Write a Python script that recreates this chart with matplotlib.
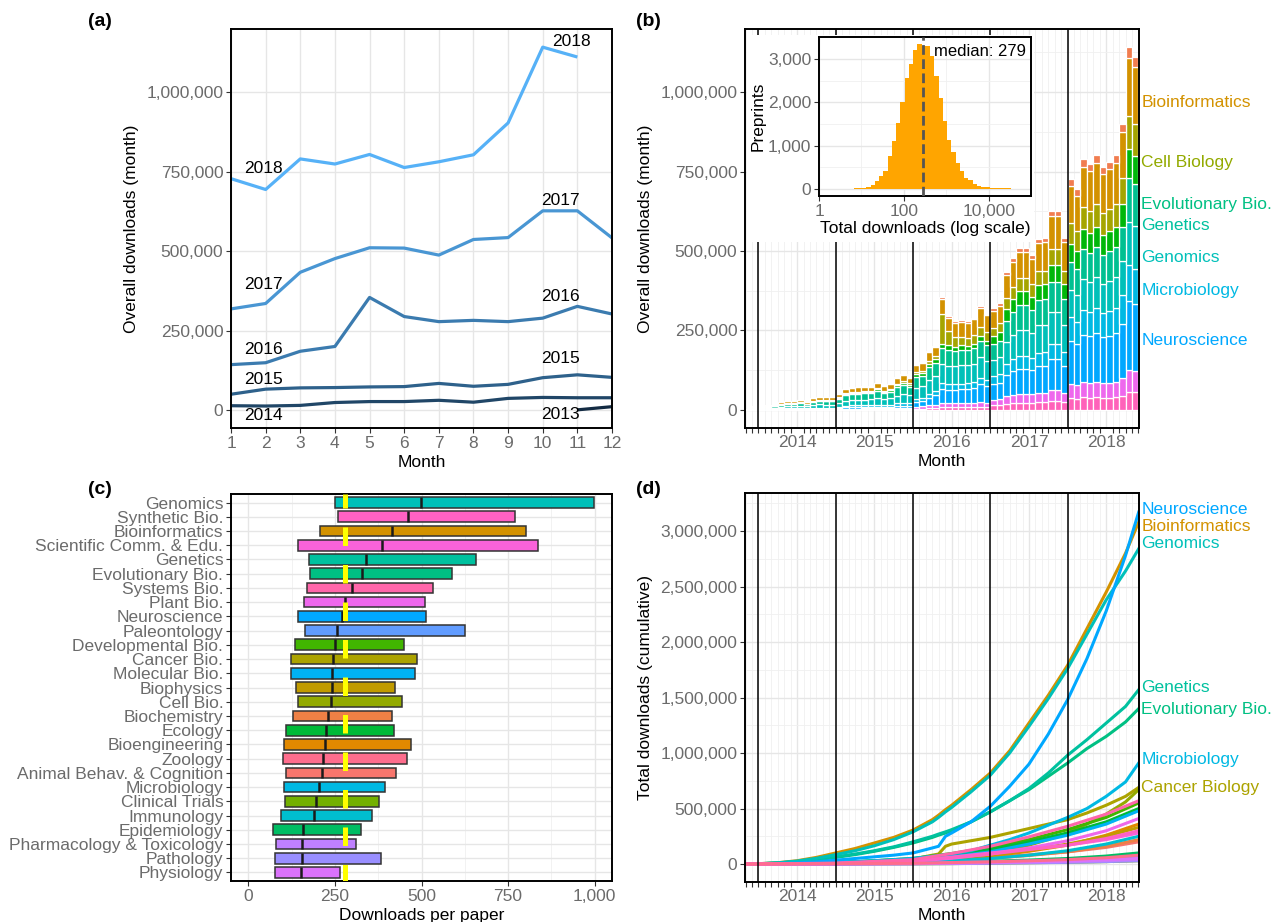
import math
import numpy as np
import pandas as pd
import matplotlib
matplotlib.use("Agg")
import matplotlib.pyplot as plt
from matplotlib.patches import Rectangle
from matplotlib.ticker import FuncFormatter, MultipleLocator, FixedLocator, NullFormatter

plt.rcParams['font.family'] = ['Liberation Sans', 'DejaVu Sans']

# ---------------- DATA ----------------
# (a) overall downloads per month, by year
months_2013 = [11, 12]
dl_2013 = [2000, 12000]
months_full = list(range(1, 13))
dl_2014 = [15000, 14000, 16000, 25000, 28000, 28000, 32000, 26000, 38000, 41000, 40000, 40000]
dl_2015 = [51000, 67000, 71000, 72000, 74000, 75000, 85000, 76000, 82000, 103000, 112000, 104000]
dl_2016 = [144000, 150000, 186000, 201000, 355000, 295000, 279000, 283000, 279000, 290000, 327000, 303000]
dl_2017 = [319000, 336000, 434000, 477000, 511000, 510000, 488000, 537000, 543000, 627000, 627000, 542000]
months_2018 = list(range(1, 12))
dl_2018 = [728000, 694000, 790000, 774000, 804000, 763000, 781000, 803000, 903000, 1141000, 1110000]

# (b) monthly downloads by field group (thousands), Nov 2013 .. Nov 2018
bar_months = pd.date_range("2013-11-01", "2018-11-01", freq="MS")
b_pink_a = [0.0, 0.2, 0.3, 0.3, 0.3, 0.5, 0.6, 0.6, 0.6, 0.5, 0.8, 0.8, 0.8, 0.8,
            1.0, 1.3, 1.4, 1.4, 1.5, 1.5, 1.7, 1.5, 1.6, 2.1, 2.2, 2.1,
            4, 4, 5, 6, 8, 8, 8, 8, 8, 9, 10, 10,
            14, 15, 20, 21, 23, 23, 22, 24, 24, 28, 28, 24,
            36, 35, 40, 39, 40, 38, 39, 40, 45, 57, 56]
b_pink_b = [0.1, 0.5, 0.6, 0.6, 0.6, 1.0, 1.1, 1.1, 1.3, 1.0, 1.5, 1.6, 1.6, 1.6,
            2.0, 2.7, 2.8, 2.9, 3.0, 3.0, 3.4, 3.0, 3.3, 4.1, 4.5, 4.2,
            6, 7, 9, 10, 14, 13, 13, 13, 13, 13, 14, 13,
            18, 18, 24, 26, 28, 28, 27, 30, 30, 34, 34, 30,
            44, 42, 47, 46, 48, 46, 47, 48, 54, 68, 67]
b_neuro = [0.1, 0.5, 0.6, 0.6, 0.6, 1.0, 1.1, 1.1, 1.3, 1.0, 1.5, 1.6, 1.6, 1.6,
           3.1, 4.0, 4.3, 4.3, 4.4, 4.5, 5.1, 4.6, 4.9, 6.2, 6.7, 6.2,
           14, 16, 24, 30, 44, 42, 42, 44, 45, 48, 56, 52,
           49, 52, 67, 74, 79, 79, 76, 83, 84, 97, 97, 84,
           138, 132, 150, 147, 153, 145, 148, 153, 172, 217, 211]
b_lblue = [0.2, 1.0, 1.2, 1.1, 1.3, 2.0, 2.2, 2.2, 2.6, 2.1, 3.0, 3.3, 3.2, 3.2,
           4.1, 5.4, 5.7, 5.8, 5.9, 6.0, 6.8, 6.1, 6.6, 8.2, 9.0, 8.3,
           10, 10, 13, 14, 18, 17, 17, 18, 18, 19, 22, 20,
           26, 27, 35, 38, 41, 41, 39, 43, 43, 50, 50, 43,
           73, 69, 79, 77, 80, 76, 78, 80, 90, 114, 111]
b_genomics = [0.5, 2.9, 3.6, 3.4, 3.8, 6.0, 6.7, 6.7, 7.7, 6.2, 9.1, 9.8, 9.6, 9.6,
              12.2, 16.1, 17.0, 17.3, 17.8, 18.0, 20.4, 18.2, 19.7, 24.7, 26.9, 25.0,
              36, 37, 44, 46, 60, 58, 57, 57, 56, 57, 63, 59,
              51, 54, 69, 76, 82, 82, 78, 86, 87, 100, 100, 87,
              87, 83, 95, 93, 96, 92, 94, 96, 108, 137, 133]
b_genevo = [0.5, 3.1, 3.9, 3.6, 4.2, 6.5, 7.3, 7.3, 8.3, 6.8, 9.9, 10.7, 10.4, 10.4,
            13.3, 17.4, 18.5, 18.7, 19.2, 19.5, 22.1, 19.8, 21.3, 26.8, 29.1, 27.0,
            33, 34, 40, 42, 50, 50, 48, 48, 47, 48, 53, 49,
            48, 50, 65, 72, 77, 77, 73, 81, 81, 94, 94, 81,
            87, 83, 95, 93, 96, 92, 94, 96, 108, 137, 133]
b_greens = [0.1, 0.7, 0.9, 0.8, 1.0, 1.5, 1.7, 1.7, 1.9, 1.6, 2.3, 2.5, 2.4, 2.4,
            3.1, 4.0, 4.3, 4.3, 4.4, 4.5, 5.1, 4.6, 4.9, 6.2, 6.7, 6.2,
            9, 9, 11, 12, 14, 15, 14, 15, 14, 15, 16, 15,
            27, 29, 37, 41, 43, 43, 41, 46, 46, 53, 53, 46,
            58, 56, 63, 62, 64, 61, 62, 64, 72, 91, 89]
b_olive = [0.1, 0.4, 0.5, 0.4, 0.5, 0.8, 0.8, 0.8, 1.0, 0.8, 1.1, 1.2, 1.2, 1.2,
           2.0, 2.7, 2.8, 2.9, 3.0, 3.0, 3.4, 3.0, 3.3, 4.1, 4.5, 4.2,
           7, 7, 9, 10, 94, 45, 30, 28, 26, 26, 28, 26,
           26, 27, 35, 38, 41, 41, 39, 43, 43, 50, 50, 43,
           66, 62, 71, 70, 72, 69, 70, 72, 81, 103, 100]
b_bioinf = [0.4, 2.5, 3.2, 2.9, 3.4, 5.3, 5.9, 5.9, 6.7, 5.5, 8.0, 8.6, 8.4, 8.4,
            9.2, 12.1, 12.8, 13.0, 13.3, 13.5, 15.3, 13.7, 14.8, 18.5, 20.2, 18.7,
            22, 23, 28, 28, 48, 42, 45, 47, 47, 50, 59, 54,
            53, 55, 72, 79, 84, 84, 81, 89, 90, 103, 103, 89,
            116, 111, 126, 124, 129, 122, 125, 128, 144, 183, 178]
b_top = [0.0, 0.2, 0.3, 0.3, 0.3, 0.5, 0.6, 0.6, 0.6, 0.5, 0.8, 0.8, 0.8, 0.8,
         1.0, 1.3, 1.4, 1.4, 1.5, 1.5, 1.7, 1.5, 1.6, 2.1, 2.2, 2.1,
         3, 3, 3, 3, 5, 5, 5, 5, 5, 5, 6, 5,
         8, 8, 11, 12, 13, 13, 12, 13, 14, 16, 16, 14,
         22, 21, 24, 23, 24, 23, 23, 24, 27, 34, 33]

# inset histogram (log10 bins of total downloads per preprint)
hist_counts = [0, 3, 4, 4, 5, 8, 12, 20, 38, 85, 170, 285, 400, 760, 1100, 1510, 2000,
               2560, 2880, 3200, 3350, 3300, 3300, 3070, 2600, 2100, 1565, 1130, 840,
               590, 400, 250, 200, 107, 70, 46, 38, 23, 23, 20, 10, 8, 6, 5, 4, 3]
hist_first_edge = 0.315
hist_bin_width = 0.1
median_downloads = 279

# (c) downloads per paper: quartiles by field
c_labels = ["Genomics", "Synthetic Bio.", "Bioinformatics", "Scientific Comm. & Edu.",
            "Genetics", "Evolutionary Bio.", "Systems Bio.", "Plant Bio.", "Neuroscience",
            "Paleontology", "Developmental Bio.", "Cancer Bio.", "Molecular Bio.",
            "Biophysics", "Cell Bio.", "Biochemistry", "Ecology", "Bioengineering",
            "Zoology", "Animal Behav. & Cognition", "Microbiology", "Clinical Trials",
            "Immunology", "Epidemiology", "Pharmacology & Toxicology", "Pathology",
            "Physiology"]
c_alpha_rank = [14, 25, 4, 24, 13, 12, 26, 23, 18, 19, 9, 6, 17, 5, 7, 2, 10, 3,
                27, 1, 16, 8, 15, 11, 21, 20, 22]
c_q1 = [249, 259, 207, 144, 176, 178, 169, 160, 142, 163, 135, 123, 123, 139, 142,
        129, 108, 103, 99, 109, 103, 105, 95, 71, 79, 76, 78]
c_median = [498, 460, 416, 387, 340, 327, 299, 280, 271, 255, 249, 245, 243, 243, 240,
            229, 223, 222, 217, 212, 203, 195, 190, 157, 155, 154, 151]
c_q3 = [998, 771, 801, 836, 657, 587, 534, 509, 514, 625, 449, 487, 481, 424, 443,
        414, 421, 469, 459, 427, 394, 376, 356, 324, 310, 383, 264]

# (d) cumulative downloads (millions)
d_dates_main = [2013.83, 2014.0, 2014.25, 2014.5, 2014.75, 2015.0, 2015.25, 2015.5,
                2015.75, 2016.0, 2016.25, 2016.33, 2016.42, 2016.5, 2016.75, 2017.0,
                2017.25, 2017.5, 2017.75, 2018.0, 2018.25, 2018.5, 2018.75, 2018.92]
cum_bioinformatics = [0, 0.003, 0.012, 0.03, 0.06, 0.10, 0.14, 0.19, 0.24, 0.306, 0.40, 0.44,
                      0.49, 0.53, 0.67, 0.82, 1.02, 1.27, 1.52, 1.79, 2.12, 2.45, 2.80, 3.08]
cum_genomics = [0, 0.003, 0.011, 0.027, 0.052, 0.085, 0.12, 0.165, 0.22, 0.29, 0.38, 0.42,
                0.47, 0.51, 0.65, 0.80, 1.00, 1.24, 1.49, 1.76, 2.07, 2.38, 2.64, 2.84]
cum_neuroscience = [0, 0.001, 0.004, 0.01, 0.02, 0.035, 0.05, 0.065, 0.08, 0.10, 0.145, 0.16,
                    0.25, 0.28, 0.38, 0.52, 0.70, 0.90, 1.17, 1.48, 1.85, 2.28, 2.78, 3.17]
cum_genetics = [0, 0.002, 0.01, 0.022, 0.04, 0.065, 0.09, 0.12, 0.155, 0.20, 0.25, 0.27,
                0.29, 0.31, 0.38, 0.47, 0.57, 0.68, 0.82, 0.98, 1.12, 1.27, 1.42, 1.57]
cum_evolutionary = [0, 0.002, 0.009, 0.02, 0.038, 0.06, 0.085, 0.115, 0.15, 0.19, 0.24, 0.26,
                    0.28, 0.30, 0.38, 0.47, 0.57, 0.67, 0.79, 0.91, 1.04, 1.15, 1.28, 1.40]
cum_microbiology = [0, 0.0005, 0.002, 0.005, 0.01, 0.016, 0.022, 0.03, 0.04, 0.052, 0.07, 0.077,
                    0.084, 0.09, 0.12, 0.17, 0.22, 0.28, 0.35, 0.42, 0.50, 0.61, 0.74, 0.91]
cum_cancer = [0, 0, 0.001, 0.003, 0.006, 0.01, 0.015, 0.022, 0.03, 0.045, 0.08, 0.09,
              0.16, 0.18, 0.21, 0.24, 0.28, 0.32, 0.36, 0.40, 0.46, 0.53, 0.61, 0.69]
cum_cell = [0, 0, 0.001, 0.002, 0.004, 0.007, 0.01, 0.014, 0.018, 0.024, 0.03, 0.033,
            0.036, 0.04, 0.06, 0.10, 0.13, 0.17, 0.22, 0.28, 0.36, 0.45, 0.56, 0.67]
d_dates_minor = [2013.83, 2015.0, 2016.0, 2016.5, 2017.0, 2017.5, 2018.0, 2018.5, 2018.92]
cum_animal = [0, 0.004, 0.02, 0.037, 0.06, 0.083, 0.11, 0.15, 0.20]
cum_biochemistry = [0, 0.003, 0.015, 0.03, 0.05, 0.077, 0.11, 0.16, 0.22]
cum_bioengineering = [0, 0.003, 0.02, 0.04, 0.07, 0.115, 0.17, 0.26, 0.36]
cum_biophysics = [0, 0.004, 0.022, 0.047, 0.08, 0.125, 0.18, 0.25, 0.33]
cum_clinical = [0, 0.0005, 0.002, 0.004, 0.008, 0.012, 0.016, 0.022, 0.03]
cum_developmental = [0, 0.01, 0.05, 0.095, 0.15, 0.22, 0.31, 0.42, 0.55]
cum_ecology = [0, 0.012, 0.045, 0.083, 0.13, 0.20, 0.28, 0.38, 0.50]
cum_epidemiology = [0, 0.002, 0.008, 0.015, 0.025, 0.036, 0.05, 0.072, 0.10]
cum_immunology = [0, 0.002, 0.012, 0.028, 0.05, 0.08, 0.12, 0.18, 0.25]
cum_molecular = [0, 0.006, 0.03, 0.065, 0.11, 0.18, 0.26, 0.36, 0.48]
cum_paleontology = [0, 0.002, 0.008, 0.013, 0.02, 0.027, 0.035, 0.047, 0.06]
cum_pathology = [0, 0.0003, 0.002, 0.004, 0.007, 0.011, 0.015, 0.022, 0.03]
cum_pharmacology = [0, 0.001, 0.004, 0.007, 0.012, 0.017, 0.022, 0.03, 0.04]
cum_physiology = [0, 0.001, 0.004, 0.008, 0.014, 0.021, 0.028, 0.038, 0.05]
cum_plant = [0, 0.004, 0.025, 0.052, 0.09, 0.145, 0.21, 0.30, 0.41]
cum_scicomm = [0, 0.005, 0.03, 0.062, 0.10, 0.135, 0.17, 0.22, 0.28]
cum_synthetic = [0, 0.006, 0.03, 0.058, 0.09, 0.13, 0.17, 0.23, 0.30]
cum_systems = [0, 0.008, 0.04, 0.095, 0.16, 0.245, 0.34, 0.45, 0.57]
cum_zoology = [0, 0.002, 0.007, 0.013, 0.02, 0.029, 0.04, 0.057, 0.08]


# ---------------- STYLE HELPERS ----------------
def hcl_hex(h, c=100.0, l=65.0):
    hr = math.radians(h)
    U, V = c * math.cos(hr), c * math.sin(hr)
    Xn, Yn, Zn = 95.047, 100.0, 108.883
    den = Xn + 15 * Yn + 3 * Zn
    un, vn = 4 * Xn / den, 9 * Yn / den
    Y = Yn * ((l + 16) / 116) ** 3 if l > 8 else Yn * l / 903.3
    u = U / (13 * l) + un
    v = V / (13 * l) + vn
    X = 9.0 * Y * u / (4 * v)
    Z = -X / 3 - 5 * Y + 3 * Y / v
    X, Y, Z = X / 100, Y / 100, Z / 100
    r = 3.240479 * X - 1.537150 * Y - 0.498535 * Z
    g = -0.969256 * X + 1.875992 * Y + 0.041556 * Z
    b = 0.055648 * X - 0.204043 * Y + 1.057311 * Z

    def gam(t):
        t = 12.92 * t if t <= 0.0031308 else 1.055 * t ** (1 / 2.4) - 0.055
        return min(1.0, max(0.0, t))
    return (gam(r), gam(g), gam(b))


def hue_of_rank(rank):
    return 15 + (rank - 1) * 360.0 / 27


comma = FuncFormatter(lambda v, p: f"{v:,.0f}")
TICK_COLOR = '#6B6B6B'
FS = 12.5


def style(ax, minor=True):
    for s in ax.spines.values():
        s.set_color('black')
        s.set_linewidth(1.4)
    ax.tick_params(which='both', colors='#333333', labelcolor=TICK_COLOR,
                   labelsize=FS, width=0.8)
    ax.tick_params(which='major', length=3.5, pad=2)
    ax.tick_params(which='minor', length=0)
    ax.set_axisbelow(True)
    ax.grid(which='major', color='#E6E6E6', lw=1.0)
    if minor:
        ax.grid(which='minor', color='#F0F0F0', lw=0.6)


W, H = 1275.0, 922.0


def box(l, t, r, b):
    return [l / W, 1 - b / H, (r - l) / W, (b - t) / H]


fig = plt.figure(figsize=(12.75, 9.22), dpi=100)

# ---------------- (a) ----------------
axA = fig.add_axes(box(231, 29, 612, 428))
style(axA, minor=False)
c0 = np.array([0x13, 0x2B, 0x43]) / 255.0
c1 = np.array([0x56, 0xB1, 0xF7]) / 255.0
series_a = [(2013, months_2013, dl_2013), (2014, months_full, dl_2014),
            (2015, months_full, dl_2015), (2016, months_full, dl_2016),
            (2017, months_full, dl_2017), (2018, months_2018, dl_2018)]
for yr, mo, vals in series_a:
    f = (yr - 2013) / 5.0
    axA.plot(mo, vals, color=tuple(c0 + f * (c1 - c0)), lw=2.3, solid_capstyle='butt')
axA.set_xlim(1, 12)
axA.set_ylim(-55000, 1198000)
axA.set_xticks(months_full)
axA.set_yticks([0, 250000, 500000, 750000, 1000000])
axA.yaxis.set_major_formatter(comma)
axA.set_xlabel("Month", fontsize=FS, labelpad=3)
axA.set_ylabel("Overall downloads (month)", fontsize=FS, labelpad=5)
a_labels = [("2018", 1.94, 761000), ("2018", 10.82, 1159000), ("2017", 1.94, 397000),
            ("2017", 10.52, 659000), ("2016", 1.94, 193000), ("2016", 10.52, 357000),
            ("2015", 1.94, 96000), ("2015", 10.52, 164000), ("2014", 1.94, -17000),
            ("2013", 10.52, -14000)]
for txt, x, y in a_labels:
    axA.text(x, y, txt, fontsize=FS, ha='center', va='center', color='black')

# ---------------- (b) ----------------
axB = fig.add_axes(box(745, 29.3, 1139, 427.7))
style(axB)
xb = np.array([d.year + (d.month - 0.5) / 12.0 for d in bar_months])
layers = [(b_pink_a, 340), (b_pink_b, 308), (b_neuro, 241.7), (b_lblue, 215),
          (b_genomics, 188.3), (b_genevo, 168), (b_greens, 128), (b_olive, 86),
          (b_bioinf, 55), (b_top, 25)]
bottom = np.zeros(len(xb))
for vals, hue in layers:
    v = np.array(vals, dtype=float) * 1000
    axB.bar(xb, v, width=1 / 12.0, bottom=bottom, color=hcl_hex(hue),
            edgecolor='white', linewidth=0.9, zorder=2)
    bottom += v
for yr in range(2014, 2019):
    axB.axvline(yr, color='black', lw=1.1, zorder=4)
axB.set_xlim(2013.826, 2018.924)
axB.set_ylim(-56000, 1198000)
axB.set_xticks([2014.5, 2015.5, 2016.5, 2017.5, 2018.5])
axB.set_xticklabels(["2014", "2015", "2016", "2017", "2018"])
axB.xaxis.set_minor_locator(FixedLocator([2013 + k / 12.0 for k in range(10, 72)]))
axB.tick_params(axis='x', which='minor', length=3.5, color='#333333')
axB.tick_params(axis='x', which='major', length=0, pad=5)
axB.set_yticks([0, 250000, 500000, 750000, 1000000])
axB.yaxis.set_minor_locator(MultipleLocator(125000))
axB.yaxis.set_major_formatter(comma)
axB.set_xlabel("Month", fontsize=FS, labelpad=3)
axB.set_ylabel("Overall downloads (month)", fontsize=FS, labelpad=5)
b_labels = [("Bioinformatics", 55, 969000), ("Cell Biology", 95, 778000),
            ("Evolutionary Bio.", 161.7, 648000), ("Genetics", 175, 579000),
            ("Genomics", 188.3, 479000), ("Microbiology", 215, 375000),
            ("Neuroscience", 241.7, 217000)]
for txt, hue, y in b_labels:
    axB.text(1.006, y, txt, transform=axB.get_yaxis_transform(), fontsize=FS,
             color=hcl_hex(hue), ha='left', va='center', clip_on=False)

# white backing for inset
fig.patches.append(Rectangle((747 / W, 1 - 242 / H), (1034 - 747) / W, (242 - 35) / H,
                             transform=fig.transFigure, facecolor='white',
                             edgecolor='none', zorder=1))

axI = fig.add_axes(box(819, 36.7, 1031, 196))
axI.set_zorder(2)
style(axI)
edges = hist_first_edge + hist_bin_width * np.arange(len(hist_counts) + 1)
lefts = 10 ** edges[:-1]
widths = 10 ** edges[1:] - lefts
axI.bar(lefts, hist_counts, width=widths, align='edge', color='#FFA500', lw=0, zorder=2)
axI.axvline(median_downloads, color='#555555', lw=2.0, ls=(0, (3.5, 1.6)), zorder=3)
axI.set_xscale('log')
axI.set_xlim(1, 10 ** 4.99)
axI.set_ylim(-167, 3517)
axI.xaxis.set_major_locator(FixedLocator([1, 100, 10000]))
axI.xaxis.set_minor_locator(FixedLocator([10, 1000, 100000]))
axI.xaxis.set_minor_formatter(NullFormatter())
axI.xaxis.set_major_formatter(comma)
axI.set_yticks([0, 1000, 2000, 3000])
axI.yaxis.set_minor_locator(MultipleLocator(500))
axI.yaxis.set_major_formatter(comma)
axI.set_xlabel("Total downloads (log scale)", fontsize=FS, labelpad=2)
axI.set_ylabel("Preprints", fontsize=FS, labelpad=2)
axI.text(0.975, 0.905, f"median: {median_downloads}", transform=axI.transAxes,
         fontsize=FS - 0.5, ha='right', va='center', color='black')

# ---------------- (c) ----------------
axC = fig.add_axes(box(231, 494, 612, 881))
style(axC)
yc = np.arange(len(c_labels))
for i in range(len(c_labels)):
    col = hcl_hex(hue_of_rank(c_alpha_rank[i]))
    axC.barh(yc[i], c_q3[i] - c_q1[i], left=c_q1[i], height=0.75, color=col,
             edgecolor='#333333', linewidth=1.1, zorder=2)
    axC.plot([c_median[i], c_median[i]], [yc[i] - 0.375, yc[i] + 0.375],
             color='#1A1A1A', lw=1.8, zorder=3, solid_capstyle='butt')
axC.plot([median_downloads, median_downloads], [-0.6, len(c_labels) - 0.4],
         color='#FFFF00', lw=3.6, ls=(0.9, (3.7, 3.8)), zorder=4, solid_capstyle='butt')
axC.set_xlim(-50, 1050)
axC.set_ylim(len(c_labels) - 0.4, -0.6)
axC.set_yticks(yc)
axC.set_yticklabels(c_labels)
axC.set_xticks([0, 250, 500, 750, 1000])
axC.xaxis.set_minor_locator(MultipleLocator(125))
axC.xaxis.set_major_formatter(comma)
axC.tick_params(axis='y', pad=2)
axC.set_xlabel("Downloads per paper", fontsize=FS, labelpad=3)

# ---------------- (d) ----------------
axD = fig.add_axes(box(745, 492.7, 1139, 881.7))
style(axD)
d_series = [
    (1, d_dates_minor, cum_animal), (2, d_dates_minor, cum_biochemistry),
    (3, d_dates_minor, cum_bioengineering), (4, d_dates_main, cum_bioinformatics),
    (5, d_dates_minor, cum_biophysics), (6, d_dates_main, cum_cancer),
    (7, d_dates_main, cum_cell), (8, d_dates_minor, cum_clinical),
    (9, d_dates_minor, cum_developmental), (10, d_dates_minor, cum_ecology),
    (11, d_dates_minor, cum_epidemiology), (12, d_dates_main, cum_evolutionary),
    (13, d_dates_main, cum_genetics), (14, d_dates_main, cum_genomics),
    (15, d_dates_minor, cum_immunology), (16, d_dates_main, cum_microbiology),
    (17, d_dates_minor, cum_molecular), (18, d_dates_main, cum_neuroscience),
    (19, d_dates_minor, cum_paleontology), (20, d_dates_minor, cum_pathology),
    (21, d_dates_minor, cum_pharmacology), (22, d_dates_minor, cum_physiology),
    (23, d_dates_minor, cum_plant), (24, d_dates_minor, cum_scicomm),
    (25, d_dates_minor, cum_synthetic), (26, d_dates_minor, cum_systems),
    (27, d_dates_minor, cum_zoology)]
for rank, dates, vals in d_series:
    axD.plot(dates, np.array(vals) * 1e6, color=hcl_hex(hue_of_rank(rank)), lw=2.2,
             solid_joinstyle='round', zorder=2)
for yr in range(2014, 2019):
    axD.axvline(yr, color='black', lw=1.1, zorder=3)
axD.set_xlim(2013.826, 2018.924)
axD.set_ylim(-159000, 3345000)
axD.set_xticks([2014.5, 2015.5, 2016.5, 2017.5, 2018.5])
axD.set_xticklabels(["2014", "2015", "2016", "2017", "2018"])
axD.xaxis.set_minor_locator(FixedLocator([2013 + k / 12.0 for k in range(10, 72)]))
axD.tick_params(axis='x', which='minor', length=3.5, color='#333333')
axD.tick_params(axis='x', which='major', length=0, pad=5)
axD.set_yticks([0, 500000, 1000000, 1500000, 2000000, 2500000, 3000000])
axD.yaxis.set_minor_locator(MultipleLocator(250000))
axD.yaxis.set_major_formatter(comma)
axD.set_xlabel("Month", fontsize=FS, labelpad=3)
axD.set_ylabel("Total downloads (cumulative)", fontsize=FS, labelpad=5)
d_labels = [("Neuroscience", 241.7, 3195000), ("Bioinformatics", 55, 3045000),
            ("Genomics", 188.3, 2890000), ("Genetics", 175, 1590000),
            ("Evolutionary Bio.", 161.7, 1390000), ("Microbiology", 215, 940000),
            ("Cancer Biology", 81.7, 690000)]
for txt, hue, y in d_labels:
    axD.text(1.006, y, txt, transform=axD.get_yaxis_transform(), fontsize=FS,
             color=hcl_hex(hue), ha='left', va='center', clip_on=False)

# panel tags
for tag, x, y in [("(a)", 100, 22), ("(b)", 648, 22), ("(c)", 100, 489), ("(d)", 648, 489)]:
    fig.text(x / W, 1 - y / H, tag, fontsize=14, fontweight='bold', ha='center', va='center')

fig.savefig("out.png", dpi=100)
